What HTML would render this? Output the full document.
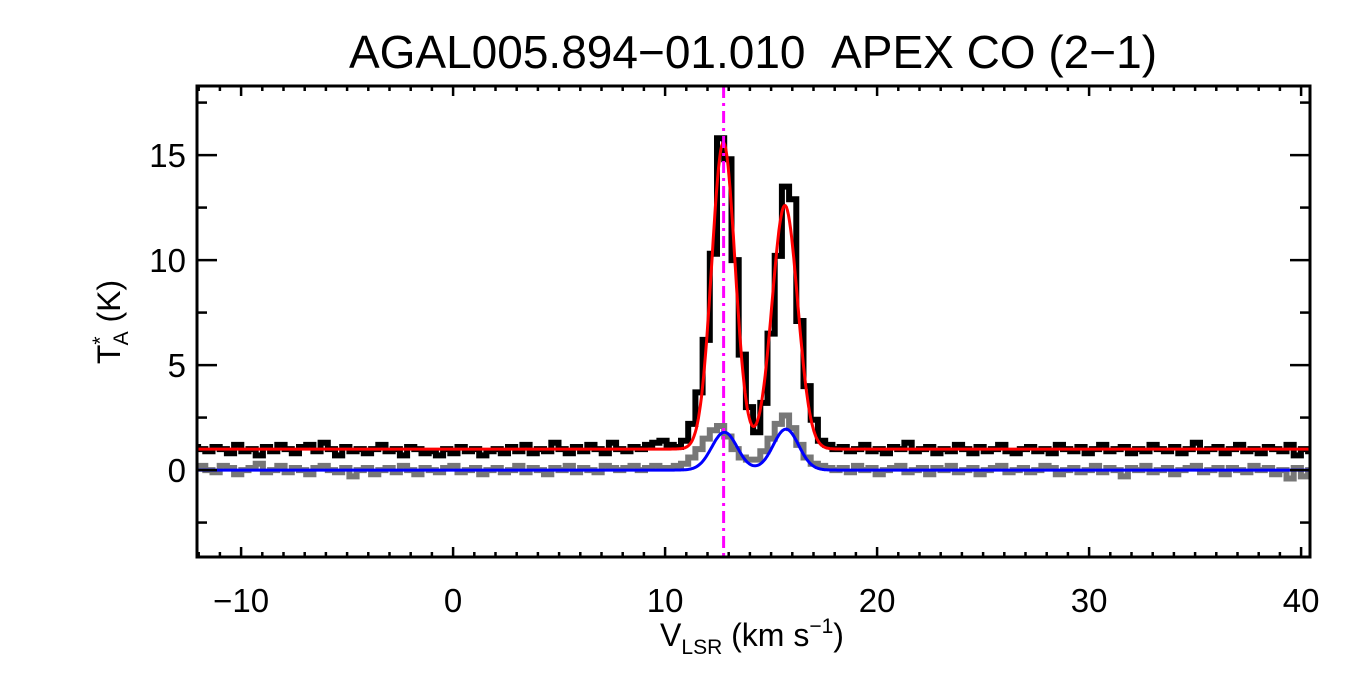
<!DOCTYPE html>
<html><head><meta charset="utf-8"><style>
html,body{margin:0;padding:0;background:#fff;}
svg{display:block;font-family:"Liberation Sans",Arial,sans-serif;}
</style></head><body>
<svg id="chart" width="1350" height="675" viewBox="0 0 1350 675" xmlns="http://www.w3.org/2000/svg">
<rect width="1350" height="675" fill="#fff"/>
<text x="753" y="68" font-size="46" text-anchor="middle">AGAL005.894−01.010&#160;&#160;APEX CO (2−1)</text>
<g id="plot"></g>
<text x="752" y="646" font-size="32" text-anchor="middle">V<tspan font-size="21" dy="8">LSR</tspan><tspan dy="-8"> (km s</tspan><tspan font-size="21" dy="-13">−1</tspan><tspan dy="13">)</tspan></text>
<g transform="translate(120,322) rotate(-90)">
<text x="0" y="0" font-size="32" text-anchor="middle">T<tspan font-size="21" dy="-13">*</tspan><tspan font-size="21" dx="-9" dy="21">A</tspan><tspan dy="-8"> (K)</tspan></text>
</g>
</svg>
<script>
const xTicks=[-10,0,10,20,30,40];
const yTicks=[0,5,10,15];
const chanStart=-12.2;
const chanStep=0.34;
const blackVals=[1.1,1.0,0.9,1.1,1.0,0.8,1.2,0.9,1.0,0.7,1.1,0.9,1.2,1.0,0.8,1.1,1.2,0.9,1.3,1.0,0.7,1.1,0.9,1.0,0.8,1.0,1.2,0.9,1.0,0.7,1.1,1.0,0.8,0.9,0.7,1.0,0.8,1.1,0.9,1.0,0.7,0.9,1.0,0.8,1.1,0.9,1.2,0.8,1.0,0.9,1.3,1.0,0.8,1.1,0.9,1.2,1.0,0.8,1.3,1.0,0.9,1.1,1.0,1.2,1.3,1.4,
1.2,1.1,1.4,2.2,3.7,6.2,10.3,15.8,14.8,10.0,5.5,3.0,1.8,3.2,6.5,10.2,13.5,12.9,7.1,4.0,2.4,1.4,1.2,
1.0,1.1,0.9,1.0,1.2,0.9,1.0,0.8,1.1,1.0,1.3,0.9,1.0,1.1,0.8,1.0,0.9,1.2,1.0,0.8,1.1,0.9,1.0,1.2,0.9,0.8,1.0,1.1,0.9,1.0,0.8,1.2,1.0,0.9,1.1,0.8,1.0,1.2,0.9,1.0,1.1,0.8,1.0,0.9,1.2,1.0,0.9,1.1,0.8,1.0,1.3,0.9,1.0,1.1,0.8,1.0,1.2,0.9,1.0,0.8,1.1,1.0,0.9,1.2,0.7,1.0,0.9,1.1];
const grayVals=[0.1,0.2,0.0,-0.1,0.2,0.1,-0.2,0.0,0.1,0.3,-0.1,0.0,0.2,-0.1,0.1,0.0,-0.2,0.1,0.2,0.0,-0.1,0.1,-0.3,0.0,0.1,-0.2,0.0,0.1,-0.1,0.2,0.0,-0.2,0.1,0.0,-0.1,0.1,0.2,-0.1,0.0,0.1,-0.2,0.0,0.1,-0.1,0.0,0.2,-0.1,0.1,0.0,-0.2,0.1,0.0,0.2,-0.1,0.1,0.0,-0.1,0.2,0.1,0.0,0.1,0.2,0.0,0.1,0.2,0.1,
0.1,0.2,0.3,0.6,1.0,1.5,1.9,2.1,1.6,1.0,0.6,0.5,0.5,0.9,1.5,2.2,2.6,2.0,1.2,0.6,0.3,0.2,0.1,
0.0,0.1,-0.1,0.2,0.0,0.1,-0.2,0.0,0.1,0.2,-0.1,0.0,0.1,-0.2,0.1,0.0,0.2,-0.1,0.0,0.1,-0.2,0.0,0.1,0.2,-0.1,0.0,0.1,-0.1,0.0,0.2,0.1,-0.2,0.0,0.1,-0.1,0.0,0.2,-0.1,0.1,0.0,-0.3,0.1,0.0,0.2,-0.1,0.0,0.1,-0.2,0.0,0.1,0.2,-0.1,0.0,0.1,-0.2,0.1,0.0,-0.1,0.2,0.0,0.1,-0.2,0.0,-0.4,0.1,-0.3,0.0,0.1];
const fitRedBase=[1.0];
const fitRedCenters=[12.75,15.65];
const fitRedAmps=[14.6,11.6];
const fitRedSigmas=[0.55,0.6];
const fitBlueBase=[0.0];
const fitBlueCenters=[12.8,15.7];
const fitBlueAmps=[1.8,1.95];
const fitBlueSigmas=[0.6,0.6];
const markerV=[12.76];

const L=197,R=1310,T=86,B=557;
const xMin=-12.08,xMax=40.42,yMin=-4.14,yMax=18.29;
const X=v=>L+(v-xMin)/(xMax-xMin)*(R-L);
const Y=t=>B-(t-yMin)/(yMax-yMin)*(B-T);
const NS='http://www.w3.org/2000/svg';
const g=document.getElementById('plot');
function mk(tag,attrs){const e=document.createElementNS(NS,tag);for(const k in attrs)e.setAttribute(k,attrs[k]);g.appendChild(e);return e;}

const clip=mk('clipPath',{id:'cp'});
const cr=document.createElementNS(NS,'rect');cr.setAttribute('x',L);cr.setAttribute('y',T);cr.setAttribute('width',R-L);cr.setAttribute('height',B-T);clip.appendChild(cr);

function histPath(vals){let d='';vals.forEach((t,i)=>{const v0=chanStart+i*chanStep-chanStep/2,v1=v0+chanStep;d+=(i?'L':'M')+X(v0).toFixed(1)+','+Y(t).toFixed(1)+'L'+X(v1).toFixed(1)+','+Y(t).toFixed(1);});return d;}
function fitPath(base,cs,as,ss){let d='';for(let v=xMin;v<=xMax;v+=0.05){let t=base[0];cs.forEach((c,k)=>{t+=as[k]*Math.exp(-((v-c)**2)/(2*ss[k]*ss[k]));});d+=(d?'L':'M')+X(v).toFixed(1)+','+Y(t).toFixed(1);}return d;}

const gray=mk('path',{d:histPath(grayVals),fill:'none',stroke:'#777','stroke-width':6,'clip-path':'url(#cp)'});


const black=mk('path',{d:histPath(blackVals),fill:'none',stroke:'#000','stroke-width':6,'clip-path':'url(#cp)'});


const blue=mk('path',{d:fitPath(fitBlueBase,fitBlueCenters,fitBlueAmps,fitBlueSigmas),fill:'none',stroke:'#0000ff','stroke-width':3,'clip-path':'url(#cp)'});


const red=mk('path',{d:fitPath(fitRedBase,fitRedCenters,fitRedAmps,fitRedSigmas),fill:'none',stroke:'#ff0000','stroke-width':3,'clip-path':'url(#cp)'});


const mv=mk('line',{x1:X(markerV[0]),x2:X(markerV[0]),y1:T,y2:B,stroke:'#ff00ff','stroke-width':3,'stroke-dasharray':'12,5,3,5'});



const frame=mk('rect',{x:L,y:T,width:R-L,height:B-T,fill:'none',stroke:'#000','stroke-width':3});



for(let v=Math.ceil(xMin);v<=xMax;v++){const maj=v%10===0;const len=maj?10:5;const x=X(v);
const t1=mk('line',{x1:x,x2:x,y1:B,y2:B-len,stroke:'#000','stroke-width':2.5});


const t2=mk('line',{x1:x,x2:x,y1:T,y2:T+len,stroke:'#000','stroke-width':2.5});

}
xTicks.forEach(v=>{const t=mk('text',{x:X(v),y:612,'font-size':33,'text-anchor':'middle'});t.textContent=v<0?'−'+(-v):String(v);

});
for(let k=Math.ceil(yMin/2.5);k*2.5<=yMax;k++){const t=k*2.5;const maj=k%2===0;const len=maj?20:10;const y=Y(t);
const a=mk('line',{x1:L,x2:L+len,y1:y,y2:y,stroke:'#000','stroke-width':2.5});


const b=mk('line',{x1:R,x2:R-len,y1:y,y2:y,stroke:'#000','stroke-width':2.5});

}
yTicks.forEach(t=>{const e=mk('text',{x:186,y:Y(t)+12,'font-size':33,'text-anchor':'end'});e.textContent=String(t);

});
</script>
</body></html>
